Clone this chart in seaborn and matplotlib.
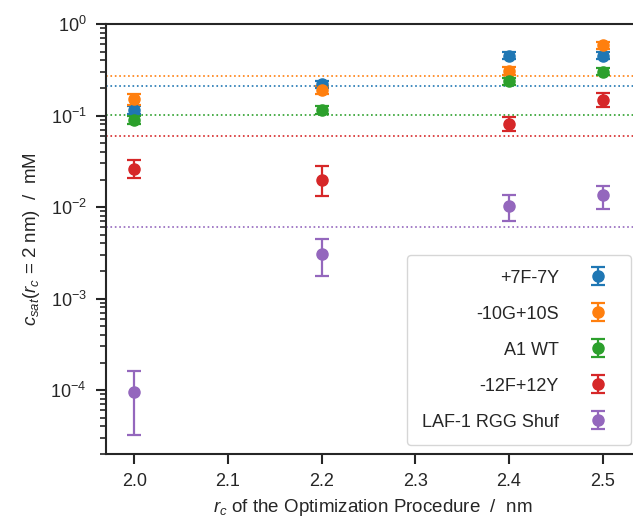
import matplotlib
matplotlib.use("Agg")
import numpy as np
import matplotlib.pyplot as plt
import seaborn as sns

# data
rc_values = [2.0, 2.2, 2.4, 2.5]
labels = ["+7F-7Y", "-10G+10S", "A1 WT", "-12F+12Y", "LAF-1 RGG Shuf"]

csat_7f7y = [0.116, 0.219, 0.45, 0.45]
low_7f7y = [0.105, 0.200, 0.41, 0.41]
high_7f7y = [0.128, 0.240, 0.49, 0.49]

csat_10g10s = [0.152, 0.19, 0.31, 0.59]
low_10g10s = [0.132, 0.17, 0.28, 0.54]
high_10g10s = [0.172, 0.21, 0.34, 0.64]

csat_a1wt = [0.090, 0.114, 0.237, 0.30]
low_a1wt = [0.080, 0.103, 0.215, 0.275]
high_a1wt = [0.100, 0.126, 0.260, 0.330]

csat_12f12y = [0.026, 0.020, 0.081, 0.147]
low_12f12y = [0.0206, 0.0132, 0.068, 0.124]
high_12f12y = [0.033, 0.0279, 0.096, 0.175]

csat_laf1 = [9.5e-5, 0.0031, 0.0103, 0.0134]
low_laf1 = [3.2e-5, 0.00178, 0.0070, 0.0095]
high_laf1 = [1.62e-4, 0.0045, 0.0136, 0.0171]

# reference c_sat values (dotted lines)
ref_lines = [0.209, 0.269, 0.1026, 0.0604, 0.0060]

sns.set_theme(style="ticks")
plt.rcParams["font.family"] = ["Liberation Sans", "DejaVu Sans"]
plt.rcParams["mathtext.fontset"] = "custom"
plt.rcParams["mathtext.rm"] = "Liberation Sans"
plt.rcParams["mathtext.it"] = "Liberation Sans:italic"
plt.rcParams["axes.linewidth"] = 1.5
plt.rcParams["xtick.major.width"] = 1.5
plt.rcParams["ytick.major.width"] = 1.5
plt.rcParams["ytick.minor.width"] = 1.2
plt.rcParams["xtick.major.size"] = 7
plt.rcParams["ytick.major.size"] = 7
plt.rcParams["ytick.minor.size"] = 4

colors = sns.color_palette("tab10", 5)

fig = plt.figure(figsize=(6.33, 5.25), dpi=100)
ax = fig.add_axes([0.1675, 0.1352, 0.8436, 0.819])

series = [
    (csat_7f7y, low_7f7y, high_7f7y),
    (csat_10g10s, low_10g10s, high_10g10s),
    (csat_a1wt, low_a1wt, high_a1wt),
    (csat_12f12y, low_12f12y, high_12f12y),
    (csat_laf1, low_laf1, high_laf1),
]

for (vals, lo, hi), lab, col, ref in zip(series, labels, colors, ref_lines):
    vals = np.array(vals)
    yerr = [vals - np.array(lo), np.array(hi) - vals]
    ax.axhline(ref, color=col, ls=":", lw=1.2, zorder=1)
    ax.errorbar(rc_values, vals, yerr=yerr, fmt="o", color=col, ms=8,
                elinewidth=1.6, capsize=5, capthick=1.6, label=lab, zorder=3)

ax.set_yscale("log")
ax.set_ylim(2e-5, 1)
ax.set_xlim(1.97, 2.54)
ax.set_xticks([2.0, 2.1, 2.2, 2.3, 2.4, 2.5])
ax.tick_params(axis="both", which="major", labelsize=13, pad=7)

ax.set_xlabel(r"$r_c$ of the Optimization Procedure  /  nm", fontsize=13.5,
              labelpad=5)
ax.set_ylabel(r"$c_{sat}$($r_c$ = 2 nm)  /  mM", fontsize=13.5, labelpad=6)

ax.legend(loc="lower right", markerfirst=False, fontsize=13,
          labelspacing=1.05, borderpad=0.8, handletextpad=1.2)

plt.savefig("out.png", dpi=100)
